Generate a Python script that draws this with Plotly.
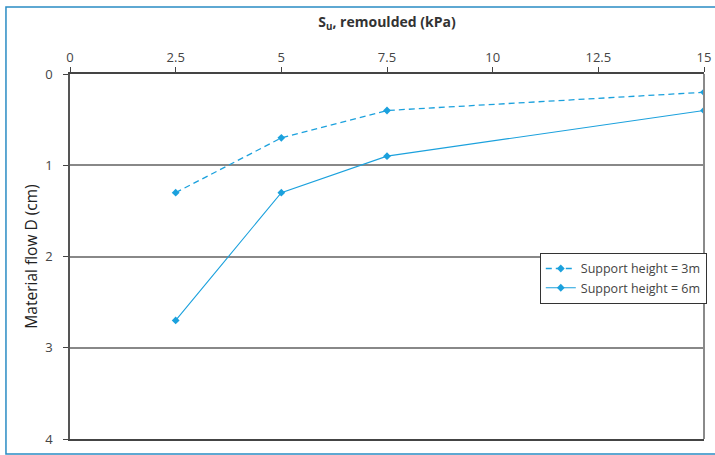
import plotly.graph_objects as go

# Undrained shear strength (remoulded), kPa
su_kpa = [2.5, 5, 7.5, 15]
# Material flow D (cm) for each support height
flow_3m = [1.3, 0.7, 0.4, 0.2]
flow_6m = [2.7, 1.3, 0.9, 0.4]

x_ticks = [0, 2.5, 5, 7.5, 10, 12.5, 15]
x_tick_text = ["0", "2.5", "5", "7.5", "10", "12.5", "15"]
y_ticks = [0, 1, 2, 3, 4]

line_blue = "#1ba1dd"
font_family = "Open Sans, Noto Sans, sans-serif"

fig = go.Figure()
fig.add_trace(go.Scatter(
    x=su_kpa, y=flow_3m, mode="lines+markers", name="Support height = 3m",
    line=dict(color=line_blue, width=1.3, dash="6px,4px"),
    marker=dict(symbol="diamond", size=6, color=line_blue),
))
fig.add_trace(go.Scatter(
    x=su_kpa, y=flow_6m, mode="lines+markers", name="Support height = 6m",
    line=dict(color=line_blue, width=1.1),
    marker=dict(symbol="diamond", size=6, color=line_blue),
))

# outer frame and right-hand plot border
fig.add_shape(type="rect", xref="paper", yref="paper",
              x0=-0.101, x1=1.03, y0=-0.041, y1=1.1836,
              line=dict(color="#2a8cc4", width=1.5), layer="below")
fig.add_shape(type="line", xref="paper", yref="paper",
              x0=1, x1=1, y0=0, y1=1,
              line=dict(color="#8a8a8a", width=2))

fig.update_layout(
    width=715, height=455,
    margin=dict(l=70, r=11, t=74, b=16, autoexpand=False),
    paper_bgcolor="white", plot_bgcolor="white",
    font=dict(family=font_family, size=13, color="#444"),
    title=dict(text="<b>S<sub>u</sub>, remoulded (kPa)</b>",
               x=387 / 715, xanchor="center", y=1 - 22 / 455, yanchor="middle",
               font=dict(size=14, color="#333")),
    showlegend=True,
    legend=dict(x=0.741, y=0.51, xanchor="left", yanchor="top",
                bgcolor="white", bordercolor="#333", borderwidth=1,
                font=dict(size=12.5, color="#444"), tracegroupgap=0, itemwidth=30),
    xaxis=dict(range=[0, 15], side="top", tickvals=x_ticks, ticktext=x_tick_text,
               ticks="outside", ticklen=5, tickcolor="#444", automargin=False,
               showline=True, linecolor="#444", linewidth=2, mirror=True,
               showgrid=False, zeroline=False),
    yaxis=dict(range=[4, 0], tickvals=y_ticks, ticks="outside", ticklen=5,
               tickcolor="#444", showline=True, linecolor="#555", linewidth=1.5,
               showgrid=True, gridcolor="#888", gridwidth=1.5, zeroline=False,
               automargin=False, ticklabelstandoff=8,
               title=dict(text="Material flow D (cm)", font=dict(size=15.5, color="#222"),
                          standoff=4)),
)

fig.write_html("out.html")
